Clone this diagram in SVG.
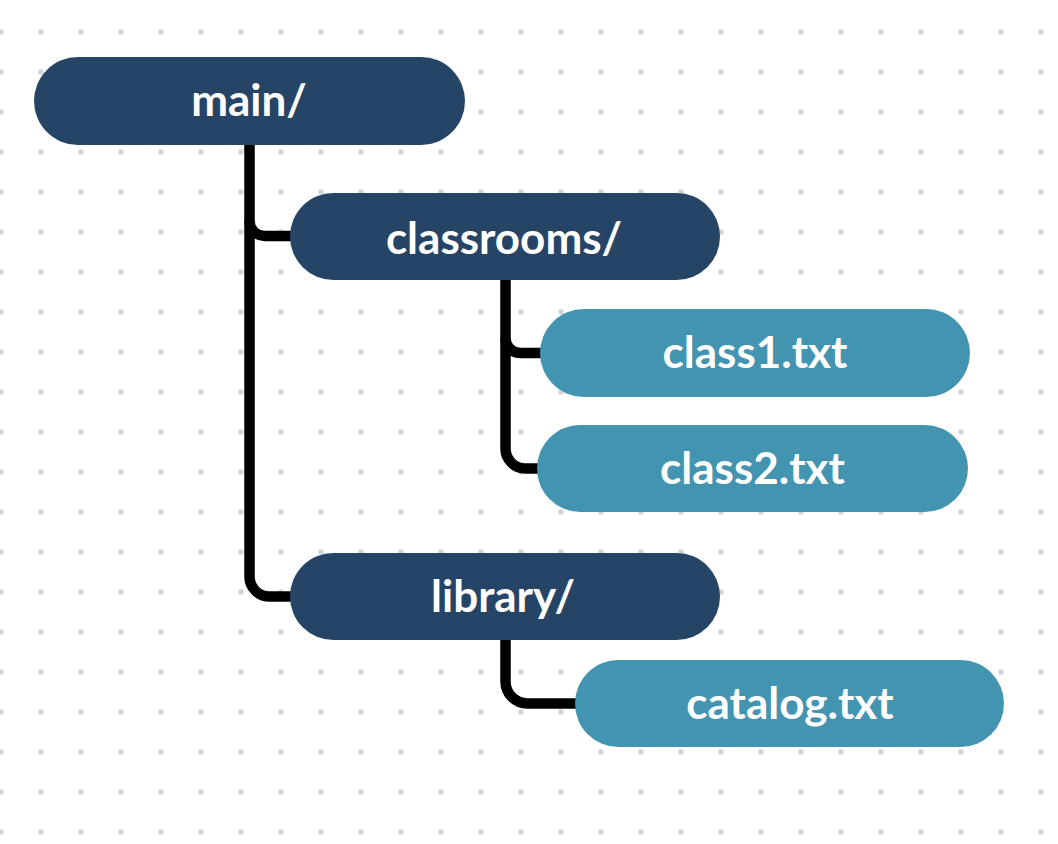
<svg xmlns="http://www.w3.org/2000/svg" width="1058" height="844" viewBox="0 0 1058 844">
  <defs>
    <pattern id="dots" patternUnits="userSpaceOnUse" x="-19" y="12" width="40" height="40">
      <circle cx="20" cy="20" r="2.7" fill="#cfd3dc"/>
    </pattern>
    <style>
      .dir { fill: #264466; }
      .file { fill: #4394b0; }
      .lbl { font-family: Lato, "Open Sans", sans-serif; font-weight: 700; font-size: 44px; fill: #ffffff; text-anchor: middle; }
      .conn { fill: none; stroke: #000000; stroke-width: 10.5; stroke-linecap: butt; stroke-linejoin: round; }
    </style>
  </defs>
  <rect width="1058" height="844" fill="#ffffff"/>
  <rect width="1058" height="844" fill="url(#dots)"/>

  <g id="connectors">
    <path class="conn" d="M249.5,140 V576.5 A20,20 0 0 0 269.5,596.5 H295"/>
    <path class="conn" d="M249.5,221 A15,15 0 0 0 264.5,236 H295"/>
    <path class="conn" d="M505.5,275 V448.5 A20,20 0 0 0 525.5,468.5 H542"/>
    <path class="conn" d="M505.5,338 A15,15 0 0 0 520.5,353 H545"/>
    <path class="conn" d="M505.5,635 V681.5 A22,22 0 0 0 527.5,703.5 H580"/>
  </g>

  <g id="node-main">
    <rect class="dir" x="34" y="57" width="431" height="88" rx="44"/>
    <text class="lbl" x="249" y="116">main/</text>
  </g>
  <g id="node-classrooms">
    <rect class="dir" x="290" y="193" width="430" height="87" rx="43.5"/>
    <text class="lbl" x="504" y="254">classrooms/</text>
  </g>
  <g id="node-class1">
    <rect class="file" x="540" y="309" width="430" height="88" rx="44"/>
    <text class="lbl" x="755" y="368">class1.txt</text>
  </g>
  <g id="node-class2">
    <rect class="file" x="537" y="425" width="431" height="87" rx="43.5"/>
    <text class="lbl" x="752.5" y="484">class2.txt</text>
  </g>
  <g id="node-library">
    <rect class="dir" x="290" y="553" width="430" height="87" rx="43.5"/>
    <text class="lbl" x="503" y="612">library/</text>
  </g>
  <g id="node-catalog">
    <rect class="file" x="575" y="660" width="429" height="87" rx="43.5"/>
    <text class="lbl" x="790" y="719">catalog.txt</text>
  </g>
</svg>
